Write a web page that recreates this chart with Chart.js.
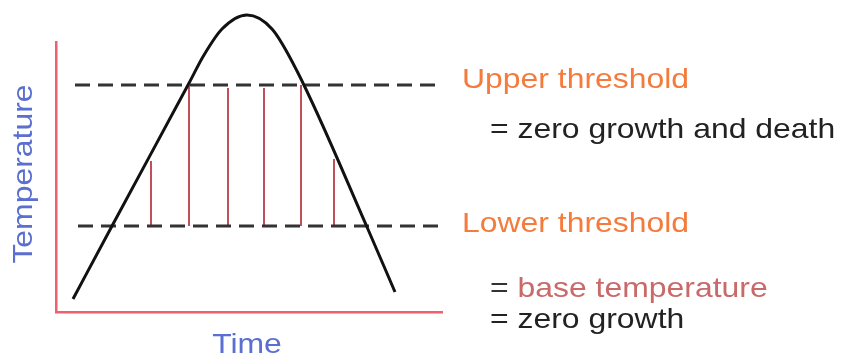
<!DOCTYPE html>
<html>
<head>
<meta charset="utf-8">
<script src="https://cdn.jsdelivr.net/npm/chart.js@4.4.1/dist/chart.umd.min.js"></script>
<style>
  html, body { margin: 0; padding: 0; background: #fff; }
  canvas { display: block; }
</style>
</head>
<body>
<canvas id="degreeChart" width="845" height="358"></canvas>
<script>
"use strict";

// ---------------- DATA ----------------
const curveTimes = [1.7, 5.6, 13.2, 14.8, 16.6, 19.1, 21.6, 24.1, 31.1, 33.9];
const curveTemps = [1.3, 8.6, 22.7, 25.7, 28.3, 29.7, 28.3, 24.1, 8.5, 2.0];

const upperThreshold = 22.7;
const lowerThreshold = 8.6;
const upperSpan = [1.9, 38.1];
const lowerSpan = [2.2, 38.4];

const dropTimes = [9.5, 13.3, 17.2, 20.8, 24.5, 27.8];
const dropTops = [15.1, 22.7, 22.4, 22.4, 22.7, 15.3];

const axisTitles = { x: "Time", y: "Temperature" };
const labelLines = [
  { parts: [["Upper threshold", "#f47b3c"]], indent: false },
  { parts: [["= zero growth and death", "#222"]], indent: true },
  { parts: [["Lower threshold", "#f47b3c"]], indent: false },
  { parts: [["= ", "#333"], ["base temperature", "#c96a6a"]], indent: true },
  { parts: [["= zero growth", "#222"]], indent: true },
];

// ---------------- TEXT PLUGIN ----------------
const STRETCH = 1.14;
const FONT = "28px 'Liberation Sans', Arial, sans-serif";

const textPlugin = {
  id: "diagramText",
  afterDraw(chart) {
    const ctx = chart.ctx;
    const area = chart.chartArea;
    ctx.save();
    ctx.font = FONT;
    ctx.textBaseline = "alphabetic";

    // x title under the axis
    ctx.save();
    ctx.fillStyle = "#5a6fcf";
    ctx.translate(247, area.bottom + 41);
    ctx.scale(STRETCH, 1);
    ctx.textAlign = "center";
    ctx.fillText(axisTitles.x, 0, 0);
    ctx.restore();

    // y title, rotated
    ctx.save();
    ctx.fillStyle = "#5a6fcf";
    ctx.translate(32, 174);
    ctx.rotate(-Math.PI / 2);
    ctx.scale(STRETCH, 1);
    ctx.textAlign = "center";
    ctx.fillText(axisTitles.y, 0, 0);
    ctx.restore();

    // right-hand labels
    const baselines = [88, 138, 232, 297, 328];
    ctx.textAlign = "left";
    labelLines.forEach((line, i) => {
      let x = line.indent ? 490 : 462;
      line.parts.forEach(([txt, color]) => {
        ctx.save();
        ctx.fillStyle = color;
        ctx.translate(x, baselines[i]);
        ctx.scale(STRETCH, 1);
        ctx.fillText(txt, 0, 0);
        ctx.restore();
        x += ctx.measureText(txt).width * STRETCH;
      });
    });
    ctx.restore();
  },
};

// ---------------- DATASETS ----------------
const curvePoints = curveTimes.map((t, i) => ({ x: t, y: curveTemps[i] }));

const dropSets = dropTimes.map((t, i) => ({
  data: [
    { x: t, y: lowerThreshold },
    { x: t, y: dropTops[i] },
  ],
  borderColor: "#c2505c",
  borderWidth: 2,
  pointRadius: 0,
  showLine: true,
  order: 3,
}));

const thresholdSet = (level, span) => ({
  data: [
    { x: span[0], y: level },
    { x: span[1], y: level },
  ],
  borderColor: "#333",
  borderWidth: 3,
  borderDash: [15, 8],
  pointRadius: 0,
  showLine: true,
  order: 2,
});

// ---------------- CHART ----------------
new Chart(document.getElementById("degreeChart"), {
  type: "scatter",
  data: {
    datasets: [
      {
        data: curvePoints,
        borderColor: "#111",
        borderWidth: 3,
        pointRadius: 0,
        showLine: true,
        cubicInterpolationMode: "monotone",
        clip: false,
        order: 1,
      },
      thresholdSet(upperThreshold, upperSpan),
      thresholdSet(lowerThreshold, lowerSpan),
      ...dropSets,
    ],
  },
  options: {
    responsive: false,
    animation: false,
    layout: { padding: { left: 56, right: 403, top: 42, bottom: 46 } },
    plugins: { legend: { display: false }, tooltip: { enabled: false } },
    scales: {
      x: {
        type: "linear",
        min: 0,
        max: 38.6,
        ticks: { display: false },
        grid: { display: false, drawTicks: false },
        border: { display: true, color: "#f0606c", width: 2.5 },
      },
      y: {
        type: "linear",
        min: 0,
        max: 27,
        ticks: { display: false },
        grid: { display: false, drawTicks: false },
        border: { display: true, color: "#f0606c", width: 2.5 },
      },
    },
  },
  plugins: [textPlugin],
});
</script>
</body>
</html>
